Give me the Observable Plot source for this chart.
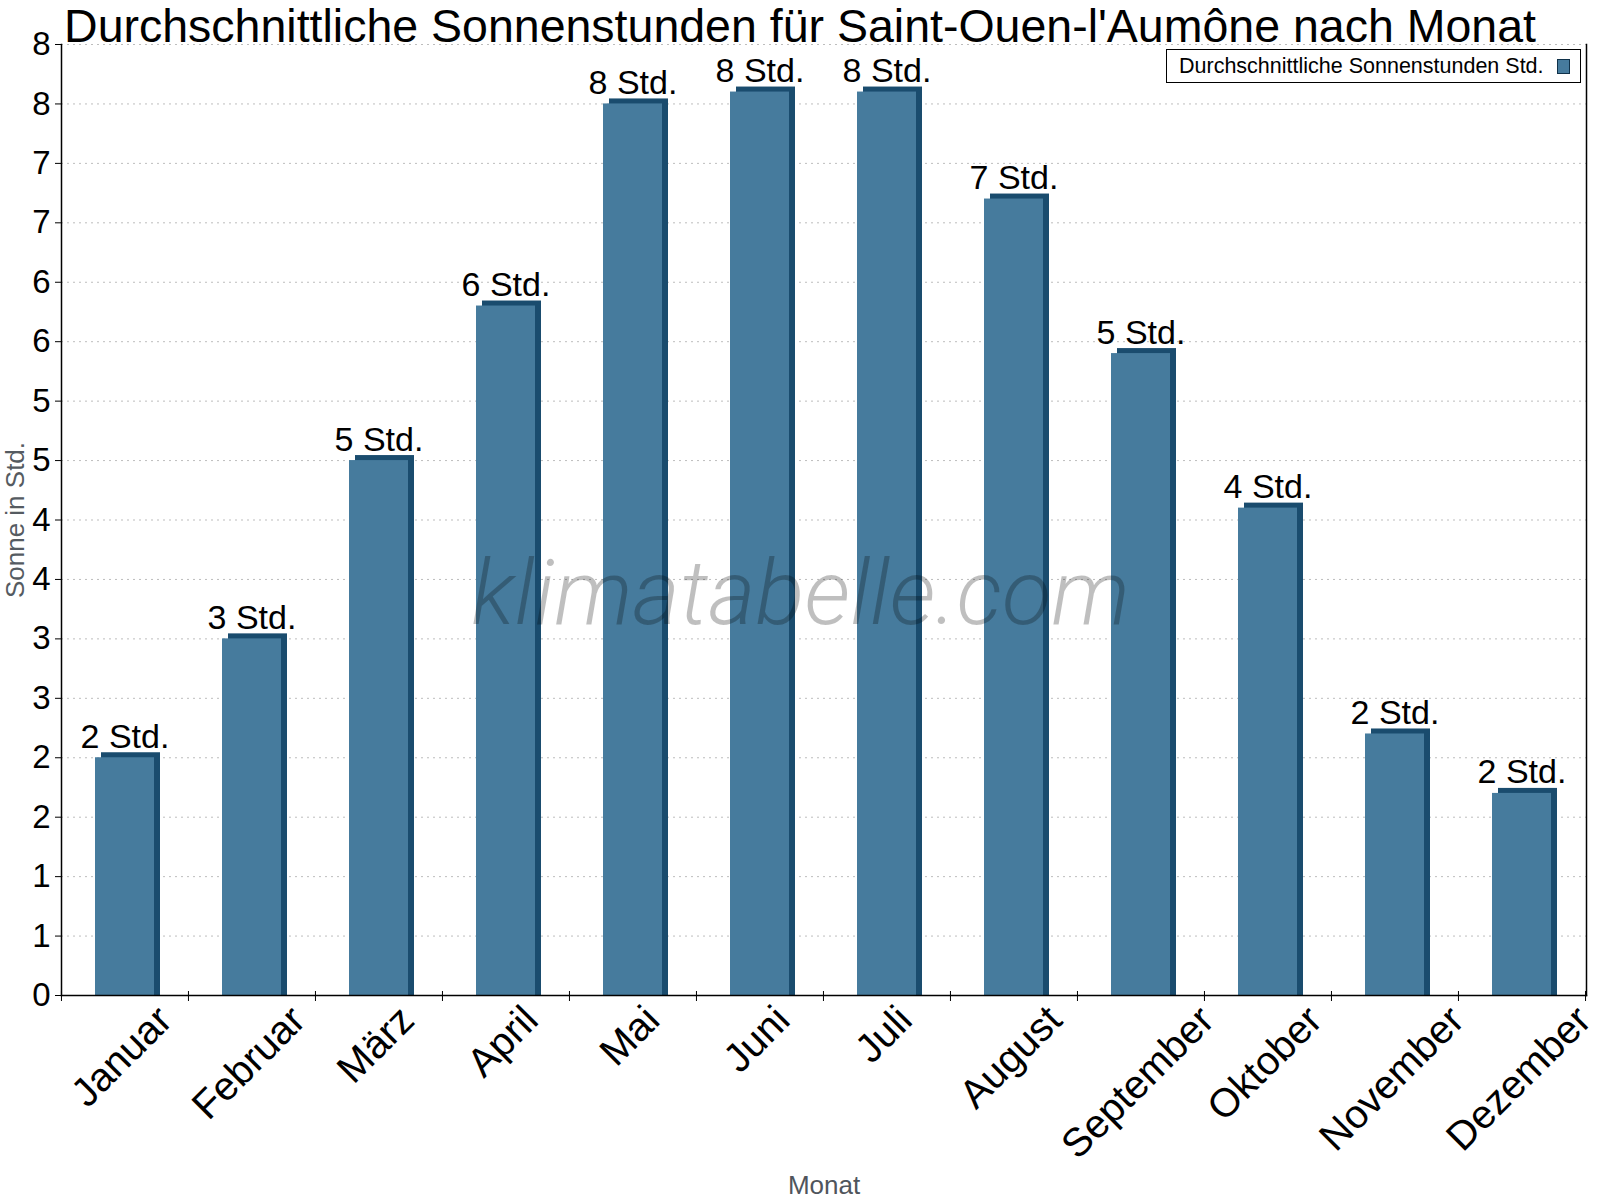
<!DOCTYPE html>
<html>
<head>
<meta charset="utf-8">
<script src="https://cdn.jsdelivr.net/npm/d3@7"></script>
<script src="https://cdn.jsdelivr.net/npm/@observablehq/plot@0.6"></script>
<style>
  html, body { margin: 0; padding: 0; background: #fff; }
  #wrap { position: relative; width: 1600px; height: 1200px; overflow: hidden; }
  #wrap svg { position: absolute; left: 0; top: 0; }
  #title { position: absolute; left: 0; top: 0; width: 1600px; text-align: center;
           font: 46.5px/52px "Liberation Sans", Arial, sans-serif; white-space: nowrap; color: #000; }
  #legend { position: absolute; left: 1166px; top: 49px; width: 415px; height: 34px; box-sizing: border-box;
            border: 1.5px solid #000; background: #fff; display: flex; align-items: center;
            font: 21.5px "Liberation Sans", Arial, sans-serif; color: #000; padding-left: 12px; }
  #legend .sw { width: 13px; height: 15px; box-sizing: border-box; border: 1.5px solid #10324a;
                background: #467b9d; margin-left: 13px; }
</style>
</head>
<body>
<div id="wrap">
  <div id="title"></div>
  <div id="legend"><span id="legendText"></span><span class="sw"></span></div>
</div>
<script>
// ---- data ----
const titleText = "Durchschnittliche Sonnenstunden für Saint-Ouen-l'Aumône nach Monat";
const seriesName = "Durchschnittliche Sonnenstunden Std.";
const months = ["Januar", "Februar", "März", "April", "Mai", "Juni", "Juli", "August", "September", "Oktober", "November", "Dezember"];
const sunHours = [2.0, 3.0, 4.5, 5.8, 7.5, 7.6, 7.6, 6.7, 5.4, 4.1, 2.2, 1.7];
const yTickValues = [0, 0.5, 1, 1.5, 2, 2.5, 3, 3.5, 4, 4.5, 5, 5.5, 6, 6.5, 7, 7.5, 8];
const yLabel = "Sonne in Std.";
const xLabel = "Monat";
const watermark = "klimatabelle.com";

const data = months.map((m, i) => ({month: m, value: sunHours[i]}));

// ---- layout / style ----
const W = 1600, H = 1200;
const mL = 61, mR = 14, mT = 44, mB = 205;
const step = (W - mL - mR) / months.length;
const front = "#467b9d", side = "#1a4c6e";
const font = "'Liberation Sans', Arial, sans-serif";
const xFont = 40;

const ctx = document.createElement("canvas").getContext("2d");
ctx.font = `${xFont}px ${font}`;
const textW = s => ctx.measureText(s).width;

document.getElementById("title").textContent = titleText;
document.getElementById("legendText").textContent = seriesName;

const xLabelMarks = months.map(m => Plot.text([m], {
  x: d => d, frameAnchor: "bottom", rotate: -45, textAnchor: "end", lineAnchor: "bottom",
  fontSize: xFont, fill: "#000", dx: 0.3535 * textW(m) + 6, dy: 27
}));

const chart = Plot.plot({
  width: W, height: H,
  marginLeft: mL, marginRight: mR, marginTop: mT, marginBottom: mB,
  style: {fontFamily: font, fontSize: "33px", color: "#000", background: "transparent", overflow: "visible"},
  x: {type: "band", domain: months, paddingInner: 0.535, paddingOuter: 0.2675, axis: null},
  y: {domain: [0, 8], axis: null},
  marks: [
    Plot.gridY(yTickValues, {stroke: "#bdbdbd", strokeOpacity: 1, strokeDasharray: "2,4", strokeWidth: 1}),
    // 3D side/top
    Plot.barY(data, {x: "month", y: "value", fill: side, dx: 6, insetTop: -5}),
    // front face
    Plot.barY(data, {x: "month", y: "value", fill: front}),
    // value labels
    Plot.text(data, {x: "month", y: "value", text: d => `${Math.round(d.value)} Std.`, lineAnchor: "bottom",
      dy: -10, fontSize: 34, fill: "#000"}),
    // watermark
    Plot.text([watermark], {frameAnchor: "middle", dx: W / 2 - (mL + (W - mL - mR) / 2), dy: 104, lineAnchor: "bottom",
      fontSize: 91, fontFamily: "Roboto, 'Open Sans', sans-serif", fontWeight: 300, fontStyle: "italic",
      fill: "#000", fillOpacity: 0.25}),
    // frame lines
    Plot.frame({anchor: "left", stroke: "#000", strokeWidth: 1.5}),
    Plot.frame({anchor: "right", stroke: "#000", strokeWidth: 1.5}),
    Plot.frame({anchor: "bottom", stroke: "#000", strokeWidth: 1.5}),
    // y axis
    Plot.axisY(yTickValues, {tickFormat: d => String(Math.round(d)), tickSize: 6, tickPadding: 5, fontSize: 33,
      label: null, stroke: "#000"}),
    // x boundary ticks
    Plot.ruleX(months, {x: d => d, y1: 0, y2: 0, dx: -step / 2, insetTop: -4, insetBottom: -6, stroke: "#000"}),
    Plot.ruleX(months.slice(-1), {x: d => d, y1: 0, y2: 0, dx: step / 2, insetTop: -4, insetBottom: -6, stroke: "#000"}),
    ...xLabelMarks,
    // axis titles
    Plot.text([yLabel], {frameAnchor: "left", rotate: -90, dx: -46, textAnchor: "middle", lineAnchor: "middle",
      fontSize: 26, fill: "#555b61"}),
    Plot.text([xLabel], {frameAnchor: "bottom", dy: 198, lineAnchor: "bottom", fontSize: 26, fill: "#50555c"})
  ]
});

document.getElementById("wrap").insertBefore(chart, document.getElementById("title"));
</script>
</body>
</html>
